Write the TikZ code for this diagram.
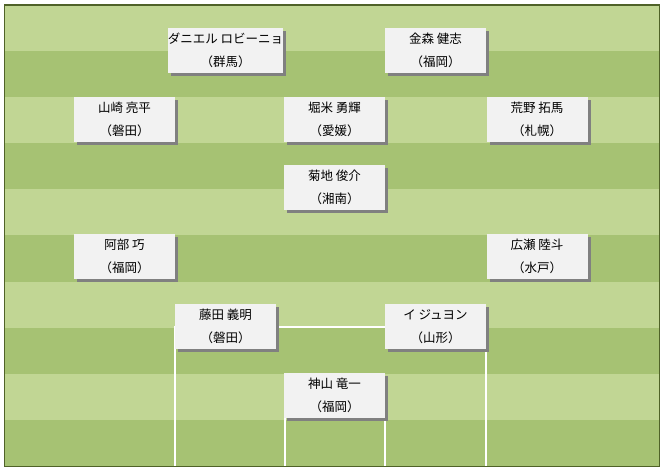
\documentclass[tikz,border=0pt]{standalone}
\usepackage{fontspec}
\setmainfont{Noto Sans CJK JP}
\usetikzlibrary{shadows}
\definecolor{pitchlight}{HTML}{C1D694}
\definecolor{pitchdark}{HTML}{A6C273}
\definecolor{pitchedge}{HTML}{4F6228}
\definecolor{cardfill}{HTML}{F2F2F2}
\definecolor{cardshadow}{HTML}{808080}
\tikzset{
  player/.style={fill=cardfill, minimum width=101bp, minimum height=45bp, inner sep=0pt, align=center,
    font=\fontsize{12.5bp}{23bp}\selectfont,
    drop shadow={shadow xshift=3bp, shadow yshift=-3bp, fill=cardshadow, opacity=1}},
  pitchline/.style={draw=white, line width=1.5bp}
}

\begin{document}
\begin{tikzpicture}[x=1bp, y=-1bp]
    \useasboundingbox (0,0) rectangle (661,471);
    % grass stripes
    \foreach \i in {0,...,9} {
      \pgfmathtruncatemacro{\isDark}{mod(\i,2)}
      \ifnum\isDark=1
        \fill[pitchdark] (5,5+46.1*\i) rectangle (659,5+46.1*\i+46.1);
      \else
        \fill[pitchlight] (5,5+46.1*\i) rectangle (659,5+46.1*\i+46.1);
      \fi
    }
    % penalty area and goal area
    \draw[pitchline] (175,466) -- (175,327) -- (486,327) -- (486,466);
    \draw[pitchline] (285,466) -- (285,412) -- (385,412) -- (385,466);
    \draw[pitchedge, line width=1.5bp] (4.5,5) rectangle (659.5,466.5);
    % players
    \foreach \nm/\cx/\cy/\pname/\club in {
        fwl/225.5/50.5/ダニエル ロビーニョ/群馬,
        fwr/435.5/50.5/金森 健志/福岡,
        aml/124.5/119.5/山崎 亮平/磐田,
        amc/334.5/119.5/堀米 勇輝/愛媛,
        amr/537/119.5/荒野 拓馬/札幌,
        dm/334.5/187.5/菊地 俊介/湘南,
        wbl/124.5/256.5/阿部 巧/福岡,
        wbr/537/256.5/広瀬 陸斗/水戸,
        cbl/225.5/326.5/藤田 義明/磐田,
        cbr/435.5/326.5/イ ジュヨン/山形,
        gk/334.5/395.5/神山 竜一/福岡} {
      \node[player] (\nm) at (\cx,\cy) {\pname\\（\club）};
    }
\end{tikzpicture}
\end{document}
